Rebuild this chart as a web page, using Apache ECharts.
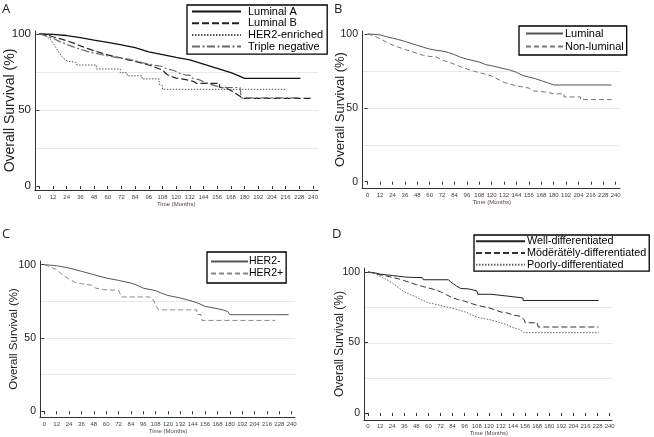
<!DOCTYPE html>
<html><head><meta charset="utf-8">
<script src="https://cdn.jsdelivr.net/npm/echarts@6/dist/echarts.min.js"></script>
<style>html,body{margin:0;padding:0;background:#fff}#c{width:654px;height:437px}</style>
</head><body><div id="c"></div>
<script>
// ---- data (months, overall survival %) ----
const xTicks = [0,240,12];          // min, max, step of time axis (months)
const yTitle = 'Overall Survival (%)';
const xTitle = 'Time (Months)';
const panelLetters = ['A','B','C','D'];

const namesA = ['Luminal A','Luminal B','HER2-enriched','Triple negative'];
const lumA = [[0,100],[12,99.8],[24,99],[36,97.6],[48,96],[60,94.5],[72,92.8],[84,91],[96,88.3],[108,86.5],[120,84.6],[132,83],[144,80.2],[156,77.4],[168,74.6],[175,72.5],[180,70.8],[229,70.8]];
const lumB = [[0,100],[6,99.6],[12,98.2],[18,97],[24,95.6],[30,94],[36,92.2],[42,90.5],[48,89],[54,87.6],[60,86.3],[66,85.2],[72,84.2],[78,83],[84,82],[90,80.8],[96,79.6],[102,78],[108,76.3],[111,74],[114,72.5],[120,71],[126,70.3],[132,69.5],[136,68.5],[138,67.5],[158,67.5],[158,65],[165,64],[170,62],[176,59],[178,57.7],[238,57.7]];
const her2e = [[0,100],[3,99.5],[6,98.5],[9,97],[11,95],[13,93],[15,90.5],[17,88],[19,86],[22,83.5],[25,82],[32,81.5],[33,79.6],[50,79.6],[50,77],[71,77],[71,74.5],[77,74.5],[77,72.5],[90,72.5],[90,70.5],[105,70.5],[105,67],[108,66],[108,63.6],[217,63.6]];
const tripNeg = [[0,100],[6,98.8],[12,97.2],[18,95],[24,93.2],[30,91.5],[36,90],[42,88.6],[48,87.5],[54,86.5],[60,85.6],[66,84.8],[72,84],[78,83.5],[84,82.4],[90,81.2],[96,80.2],[102,79.3],[108,78.6],[112,77],[118,76],[122,74.5],[128,73],[132,73],[134,71],[140,70],[146,68],[152,66.5],[158,65],[164,64.8],[176,64.8],[177,58],[228,58]];

const namesB = ['Luminal','Non-luminal'];
const luminal = [[0,100],[6,99.8],[12,99.4],[18,98.2],[24,97.2],[30,96.2],[36,95],[42,93.6],[48,92.3],[54,91],[60,89.8],[66,89],[72,88.5],[78,87.5],[84,86],[90,84.2],[96,83],[102,82],[108,81],[114,79.3],[120,78.5],[126,77.5],[132,76.5],[138,75.5],[144,74],[150,72],[156,70.8],[162,69.8],[168,68.4],[174,67],[180,65.5],[236,65.5]];
const nonLuminal = [[0,100],[6,98.8],[12,96.8],[18,94.5],[24,92.5],[30,91],[36,89.6],[42,88.2],[48,86.9],[54,85.5],[60,84.8],[66,84.6],[72,82.4],[78,81],[84,79.5],[90,77.8],[96,76.3],[102,75],[108,73.8],[114,72.8],[120,71.6],[126,69.4],[132,67.2],[138,66],[144,64.8],[150,64.2],[156,63.4],[160,61.5],[168,61],[174,60.5],[180,59.5],[190,59.5],[190,57.4],[206,57.4],[206,55.6],[236,55.6]];

const namesC = ['HER2-','HER2+'];
const her2Neg = [[0,100],[12,99.3],[24,97.7],[36,95.5],[48,93.2],[60,90.9],[72,89.3],[84,87.5],[90,86],[96,84],[108,82.3],[114,80.5],[120,79],[132,77.3],[144,75],[150,73.5],[156,71.6],[168,70],[174,69],[178,68],[180,65.9],[237,65.9]];
const her2Pos = [[0,100],[6,98.5],[12,96.6],[18,93],[24,90.2],[30,88],[36,87],[46,86],[50,84],[57,83],[72,82.5],[75,78],[102,78],[103,76.5],[106,76],[108,72],[111,69.2],[148,69.2],[148,66],[152,66],[153,62],[224,62]];

const namesD = ['Well-differentiated','Mödërätëly-differentiated','Poorly-differentiated'];
const wellDiff = [[0,100],[6,99.5],[12,98.5],[18,98],[24,97.5],[30,97],[36,96.5],[42,96.2],[54,96],[55,94.5],[80,94.5],[82,93],[85,91.5],[88,90],[92,88.3],[100,88],[108,86.6],[109,84.2],[122,84.2],[122,82.8],[140,82.8],[140,81.6],[154,81.6],[154,79.8],[229,79.8]];
const modDiff = [[0,100],[6,99.2],[12,98],[18,97.2],[24,96.2],[30,95.2],[36,93.9],[42,92.5],[48,91],[54,89.8],[60,88.7],[66,87.5],[72,86],[78,83.8],[84,81.7],[90,80.3],[96,79.3],[102,77.8],[108,76.5],[114,75.5],[120,74.6],[126,73.2],[132,71.6],[138,71],[144,69.5],[150,68.8],[153,67.4],[155,66.4],[156,64],[168,64],[169,61],[229,61]];
const poorDiff = [[0,100],[6,99],[12,97],[18,94.8],[24,92.3],[30,89],[36,86],[42,84],[48,82.2],[54,80],[60,78.2],[66,77.3],[72,76.3],[78,75.2],[84,74.2],[90,73],[96,71.8],[102,70],[108,68],[114,67],[120,66.4],[126,65.2],[132,64],[138,62.5],[144,60.6],[150,59.4],[155,57],[229,57]];

// ---- layout / style ----
const FF = '"Liberation Sans", Arial, sans-serif';
const panels = [
  {L:{axL:35,axR:318,axTop:31,axB:190,x0:39.3,x240:313,y100:34,y0:186},
   yTitleSize:14, yTitleGap:18, yLabSize:11.5,
   legend:{left:187,top:5,padding:[1,4,2,4],itemWidth:49,itemHeight:10,itemGap:0.7,fontSize:11,textPad:2},
   letter:{left:2,top:3},
   series:[
    {name:namesA[0],data:lumA,color:'#111',type:'solid',width:1.3},
    {name:namesA[1],data:lumB,color:'#222',type:[7,3],width:1.2},
    {name:namesA[2],data:her2e,color:'#555',type:[1.5,1.5],width:1},
    {name:namesA[3],data:tripNeg,color:'#6a6a6a',type:[8,2.5,2,2.5],width:1.2}]},
  {L:{axL:362,axR:620,axTop:31,axB:188,x0:367.7,x240:615.7,y100:34,y0:181.7},
   yTitleSize:13, yTitleGap:15, yLabSize:10.5,
   legend:{left:519,top:26,padding:[2,3,3,6],itemWidth:37,itemHeight:11,itemGap:2,fontSize:11,textPad:-3},
   letter:{left:334,top:3},
   series:[
    {name:namesB[0],data:luminal,color:'#555',type:'solid',width:1},
    {name:namesB[1],data:nonLuminal,color:'#777',type:[5,3],width:1}]},
  {L:{axL:40,axR:295,axTop:261,axB:417,x0:44.3,x240:291.7,y100:264.7,y0:411.3},
   yTitleSize:11.5, yTitleGap:20, yLabSize:10.5,
   legend:{left:207,top:252,padding:[4,3,4,3],itemWidth:37,itemHeight:10,itemGap:1,fontSize:10.5,textPad:-4},
   letter:{left:2,top:228},
   series:[
    {name:namesC[0],data:her2Neg,color:'#555',type:'solid',width:1},
    {name:namesC[1],data:her2Pos,color:'#888',type:[5,3],width:1}]},
  {L:{axL:364,axR:612,axTop:268,axB:420,x0:368,x240:609.7,y100:272,y0:414},
   yTitleSize:12, yTitleGap:18, yLabSize:10.5,
   legend:{left:474,top:235,padding:[0.5,3,0.5,1],itemWidth:49,itemHeight:11.7,itemGap:0,fontSize:10.8,textPad:-3},
   letter:{left:332,top:228},
   series:[
    {name:namesD[0],data:wellDiff,color:'#222',type:'solid',width:1},
    {name:namesD[1],data:modDiff,color:'#333',type:[6,3],width:1},
    {name:namesD[2],data:poorDiff,color:'#666',type:[1.5,1.5],width:1}]}
];

const W = 654, H = 437;
const opt = {animation:false, backgroundColor:'#fff', textStyle:{fontFamily:FF},
  title:[], grid:[], xAxis:[], yAxis:[], series:[], legend:[]};

panels.forEach((p, i) => {
  const L = p.L;
  const g1 = 3*i, g3 = 3*i+1, g2 = 3*i+2;
  // axis-line grid
  opt.grid.push({left:L.axL, top:L.axTop, width:L.axR-L.axL, height:L.axB-L.axTop, containLabel:false});
  opt.xAxis.push({gridIndex:g1, type:'value', min:0, max:1, axisLine:{show:true,lineStyle:{color:'#333',width:1}},
    axisTick:{show:false}, axisLabel:{show:false}, splitLine:{show:false}});
  opt.yAxis.push({gridIndex:g1, type:'value', min:0, max:1, axisLine:{show:true,lineStyle:{color:'#333',width:1}},
    axisTick:{show:false}, axisLabel:{show:false}, splitLine:{show:false},
    name:yTitle, nameLocation:'middle', nameGap:p.yTitleGap, nameRotate:90,
    nameTextStyle:{fontSize:p.yTitleSize, color:'#222', fontFamily:FF}});
  // gridline grid
  opt.grid.push({left:L.axL, top:L.y100, width:L.axR-L.axL, height:L.y0-L.y100});
  opt.xAxis.push({gridIndex:g3, type:'value', min:0, max:1, show:false});
  opt.yAxis.push({gridIndex:g3, type:'value', min:0, max:100, interval:25, axisLine:{show:false}, axisTick:{show:false},
    axisLabel:{show:false}, splitLine:{show:true, showMinLine:false, showMaxLine:false, lineStyle:{color:'#e8e8e8',width:1}}});
  // data grid
  opt.grid.push({left:L.x0, top:L.y100, width:L.x240-L.x0, height:L.y0-L.y100});
  opt.xAxis.push({gridIndex:g2, type:'value', min:xTicks[0], max:xTicks[1], interval:xTicks[2],
    offset:L.axB-L.y0, axisLine:{show:false}, axisTick:{show:true,length:3,lineStyle:{color:'#333'}},
    axisLabel:{fontSize:6, color:'#444', margin:4, fontFamily:FF},
    splitLine:{show:false}, name:xTitle, nameLocation:'middle', nameGap:11,
    nameTextStyle:{fontSize:6, color:'#5a3c3c', fontFamily:FF}});
  opt.yAxis.push({gridIndex:g2, type:'value', min:0, max:100, interval:50, offset:L.x0-L.axL,
    axisLine:{show:false}, axisTick:{show:true,length:3,lineStyle:{color:'#333'}},
    axisLabel:{fontSize:p.yLabSize, color:'#222', margin:4, fontFamily:FF}, splitLine:{show:false}});
  p.series.forEach(s => {
    opt.series.push({type:'line', name:s.name, xAxisIndex:g2, yAxisIndex:g2, data:s.data,
      symbol:'none', showSymbol:false, silent:true, clip:false,
      lineStyle:{color:s.color, width:s.width, type:s.type}, itemStyle:{color:s.color}});
  });
  const lg = p.legend;
  opt.legend.push({orient:'vertical', left:lg.left, top:lg.top, padding:lg.padding,
    itemWidth:lg.itemWidth, itemHeight:lg.itemHeight, itemGap:lg.itemGap,
    borderColor:'#000', borderWidth:1.3, borderRadius:0, backgroundColor:'#fff',
    selectedMode:false, data:p.series.map(s=>s.name),
    itemStyle:{opacity:0, borderWidth:0},
    textStyle:{fontSize:lg.fontSize, color:'#000', fontFamily:FF, lineHeight:lg.itemHeight, padding:[0,0,0,lg.textPad]}});
  opt.title.push({text:panelLetters[i], left:p.letter.left, top:p.letter.top, padding:0,
    textStyle:{fontSize:13, fontWeight:'normal', color:'#222', fontFamily:'"Open Sans", sans-serif'}});
});

const chart = echarts.init(document.getElementById('c'), null, {renderer:'canvas', width:W, height:H});
chart.setOption(opt);
</script></body></html>
